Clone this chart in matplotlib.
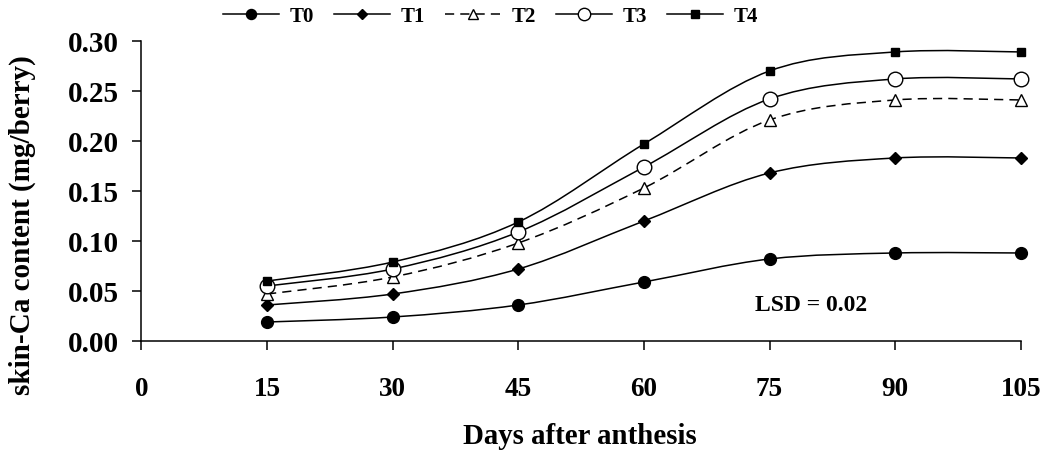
import numpy as np
import matplotlib
matplotlib.use("Agg")
import matplotlib.pyplot as plt
from matplotlib.path import Path
from matplotlib.patches import PathPatch
from matplotlib.lines import Line2D

plt.rcParams["font.family"] = ["Liberation Serif", "DejaVu Serif"]
plt.rcParams["font.weight"] = "bold"

days = [15, 30, 45, 60, 75, 90, 105]
t0 = [0.019, 0.024, 0.036, 0.059, 0.082, 0.088, 0.088]
t1 = [0.036, 0.047, 0.072, 0.120, 0.168, 0.183, 0.183]
t2 = [0.047, 0.064, 0.098, 0.153, 0.221, 0.241, 0.241]
t3 = [0.055, 0.072, 0.109, 0.174, 0.242, 0.262, 0.262]
t4 = [0.060, 0.079, 0.119, 0.197, 0.270, 0.289, 0.289]
labels = ["T0", "T1", "T2", "T3", "T4"]
x_ticks = [0, 15, 30, 45, 60, 75, 90, 105]
y_ticks = [0.00, 0.05, 0.10, 0.15, 0.20, 0.25, 0.30]

# marker, size, face colour, line style
styles = [
    ("o", 8.5, "black", "-"),
    ("D", 6.5, "black", "-"),
    ("^", 9, "white", (0, (6, 4))),
    ("o", 10.5, "white", "-"),
    ("s", 6, "black", "-"),
]


def smooth_path(x, y):
    """Catmull-Rom style bezier through the points (like excel smoothed lines)"""
    pts = np.column_stack([x, y]).astype(float)
    ext = np.vstack([pts[0], pts, pts[-1]])
    verts = [pts[0]]
    codes = [Path.MOVETO]
    for i in range(len(pts) - 1):
        p0, p1, p2, p3 = ext[i], ext[i + 1], ext[i + 2], ext[i + 3]
        verts += [p1 + (p2 - p0) / 6, p2 - (p3 - p1) / 6, p2]
        codes += [Path.CURVE4] * 3
    return Path(verts, codes)


fig = plt.figure(figsize=(10.48, 4.56), dpi=100)
ax = fig.add_axes([0.135, 0.25, 0.839, 0.658])

handles = []
for series, lab, (mk, ms, fc, ls) in zip([t0, t1, t2, t3, t4], labels, styles):
    patch = PathPatch(smooth_path(days, series), facecolor="none",
                      edgecolor="black", lw=1.1, linestyle=ls, zorder=2)
    ax.add_patch(patch)
    ax.plot(days, series, linestyle="none", marker=mk, ms=ms,
            markerfacecolor=fc, markeredgecolor="black", mew=1.0,
            clip_on=False, zorder=3)
    handles.append(Line2D([], [], color="black", lw=1.1, linestyle=ls,
                          marker=mk, ms=ms * 0.85, markerfacecolor=fc,
                          markeredgecolor="black", mew=1.0, label=lab))

ax.set_xlim(0, 105)
ax.set_ylim(0, 0.30)
ax.set_xticks(x_ticks)
ax.set_yticks(y_ticks)
ax.set_yticklabels(["%.2f" % v for v in y_ticks])
ax.spines["top"].set_visible(False)
ax.spines["right"].set_visible(False)
for sp in ("left", "bottom"):
    ax.spines[sp].set_linewidth(1.1)
ax.tick_params(axis="both", direction="out", length=6.5, width=1.1)
ax.tick_params(axis="x", pad=19, labelsize=19.5)
ax.tick_params(axis="y", pad=10, labelsize=21)
for t in ax.get_xticklabels() + ax.get_yticklabels():
    t.set_fontweight("bold")

ax.text(80, 0.036, "LSD = 0.02", fontsize=17, fontweight="bold",
        ha="center", va="center")

fig.text(0.553, 0.042, "Days after anthesis", fontsize=20.8, fontweight="bold",
         ha="center", va="center")
fig.text(0.021, 0.507, "skin-Ca content (mg/berry)", fontsize=21,
         fontweight="bold", rotation=90, ha="center", va="center")

fig.legend(handles=handles, loc="center", bbox_to_anchor=(0.468, 0.962),
           ncol=5, frameon=False, handlelength=2.7,
           handletextpad=0.5, columnspacing=0.95,
           prop={"weight": "bold", "size": 15})

fig.savefig("out.png", dpi=100)
